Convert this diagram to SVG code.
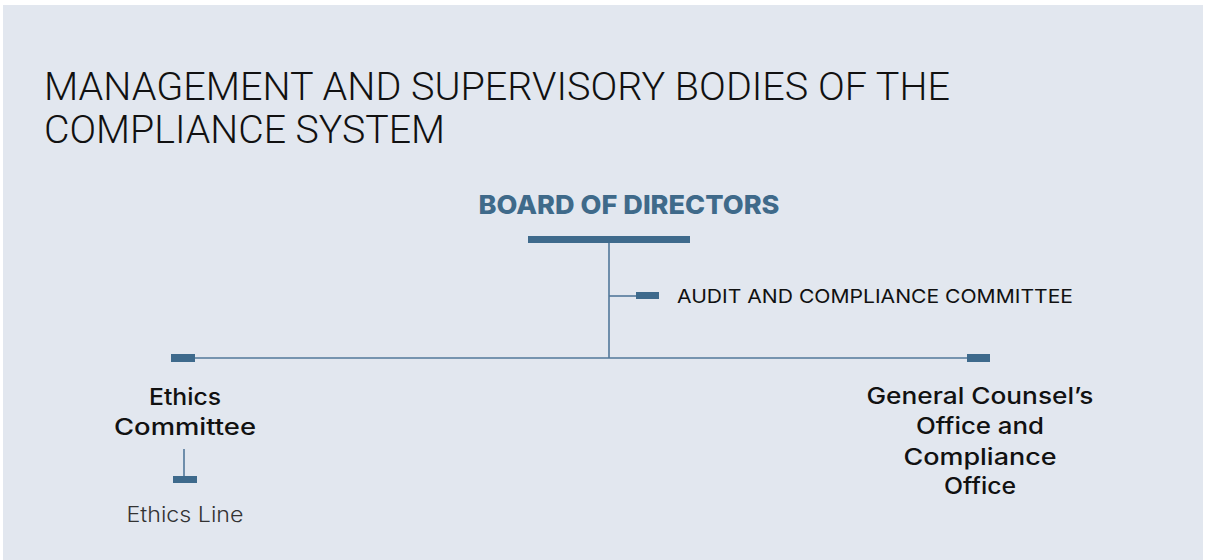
<svg xmlns="http://www.w3.org/2000/svg" width="1205" height="560" viewBox="0 0 1205 560">
<style>
.title{font-family:Roboto,"Liberation Sans",sans-serif;font-weight:300;font-size:38px;fill:#111;}
.node{font-family:Inter,"Liberation Sans",sans-serif;font-weight:500;font-size:23px;fill:#111;text-anchor:middle;}
.light{font-family:Inter,"Liberation Sans",sans-serif;font-weight:300;font-size:21px;fill:#333;text-anchor:middle;}
.audit{font-family:Inter,"Liberation Sans",sans-serif;font-weight:400;font-size:19px;fill:#111;}
.board{font-family:Inter,"Liberation Sans",sans-serif;font-weight:800;font-size:26px;fill:#3f6a8a;text-anchor:middle;}
.bar{fill:#3e6a8c;}
.ln{stroke:#52789a;stroke-width:1.6;fill:none;}
</style>
<rect x="0" y="0" width="1205" height="560" fill="#ffffff"/>
<rect x="3" y="5" width="1200" height="555" fill="#e2e7ef"/>
<g id="title">
<text class="title" x="44" y="100" textLength="906" lengthAdjust="spacingAndGlyphs">MANAGEMENT AND SUPERVISORY BODIES OF THE</text>
<text class="title" x="44" y="143" textLength="401" lengthAdjust="spacingAndGlyphs">COMPLIANCE SYSTEM</text>
</g>
<g id="connectors">
<line class="ln" x1="609" y1="243" x2="609" y2="358"/>
<line class="ln" x1="609" y1="296" x2="636" y2="296"/>
<line class="ln" x1="195" y1="358" x2="967" y2="358"/>
<line class="ln" x1="184" y1="449" x2="184" y2="476"/>
</g>
<g id="board">
<text class="board" x="629" y="214" textLength="301" lengthAdjust="spacingAndGlyphs">BOARD OF DIRECTORS</text>
<rect class="bar" x="528" y="236" width="162" height="7"/>
</g>
<g id="audit">
<rect class="bar" x="636" y="292" width="23" height="7"/>
<text class="audit" x="677" y="303" textLength="396" lengthAdjust="spacingAndGlyphs">AUDIT AND COMPLIANCE COMMITTEE</text>
</g>
<g id="ethics-committee">
<rect class="bar" x="171" y="354" width="24" height="8"/>
<text class="node" x="185" y="405" textLength="72" lengthAdjust="spacingAndGlyphs">Ethics</text>
<text class="node" x="185" y="435" textLength="142" lengthAdjust="spacingAndGlyphs">Committee</text>
</g>
<g id="ethics-line">
<rect class="bar" x="173" y="476" width="24" height="7"/>
<text class="light" x="185" y="522" textLength="117" lengthAdjust="spacingAndGlyphs">Ethics Line</text>
</g>
<g id="general-counsel">
<rect class="bar" x="967" y="354" width="23" height="8"/>
<text class="node" x="980" y="404" textLength="227" lengthAdjust="spacingAndGlyphs">General Counsel’s</text>
<text class="node" x="980" y="434" textLength="128" lengthAdjust="spacingAndGlyphs">Office and</text>
<text class="node" x="980" y="465" textLength="153" lengthAdjust="spacingAndGlyphs">Compliance</text>
<text class="node" x="980" y="494" textLength="72" lengthAdjust="spacingAndGlyphs">Office</text>
</g>
</svg>
